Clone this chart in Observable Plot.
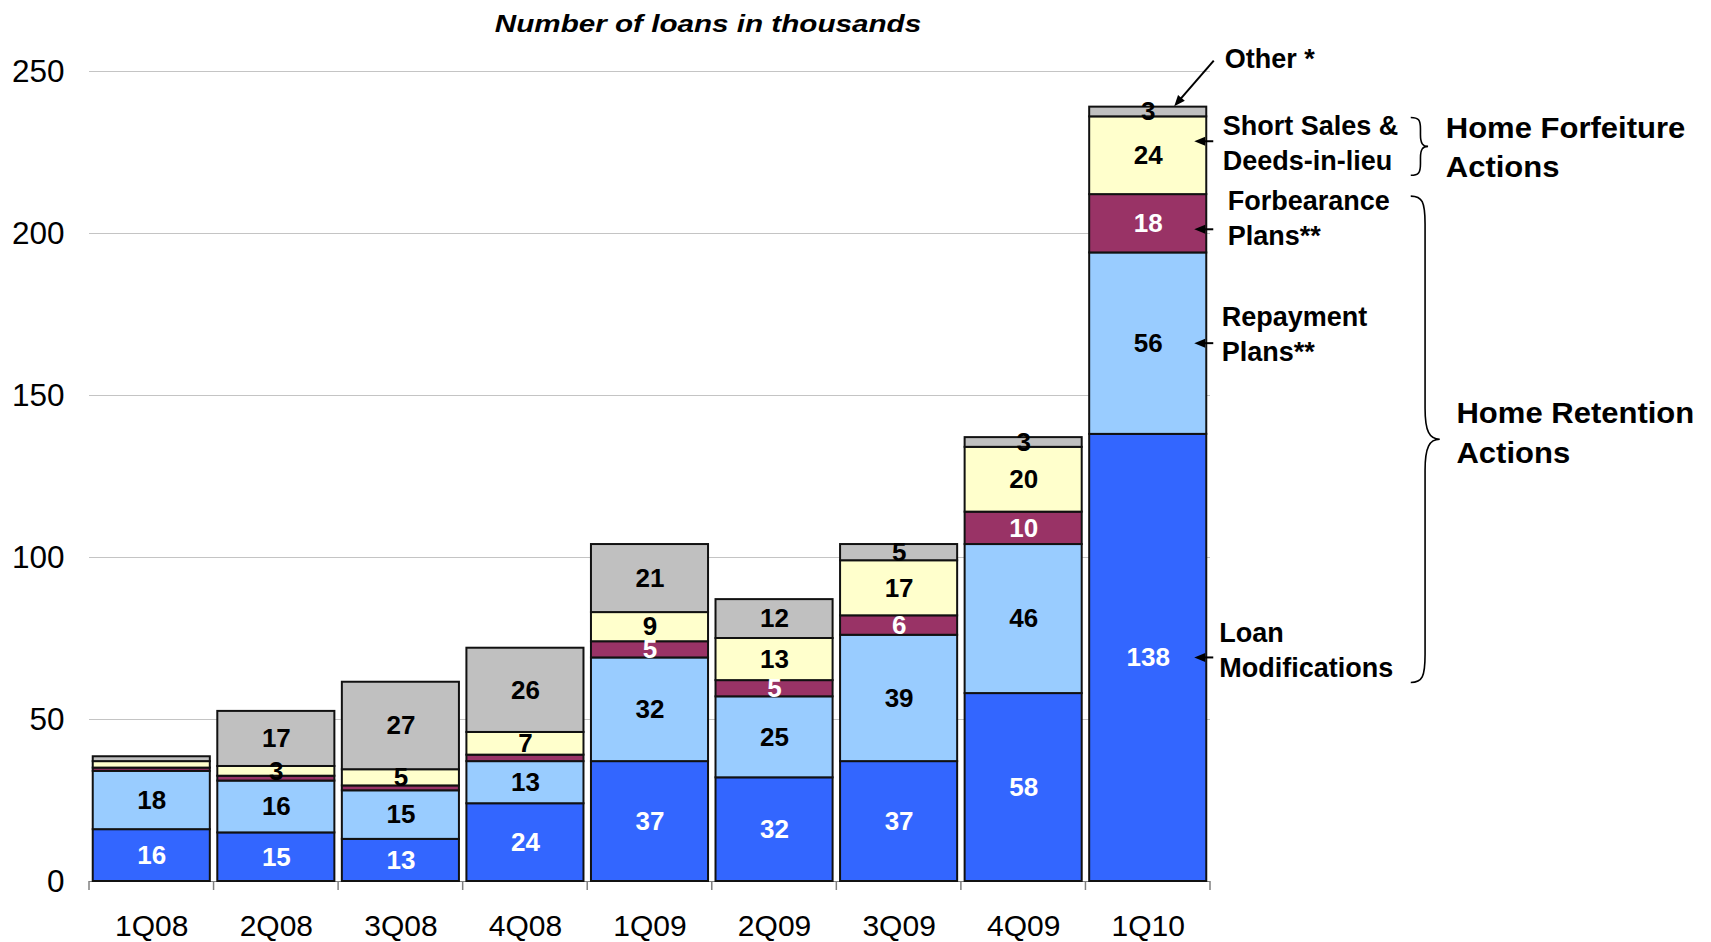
<!DOCTYPE html>
<html>
<head>
<meta charset="utf-8">
<script src="https://cdn.jsdelivr.net/npm/d3@7"></script>
<script src="https://cdn.jsdelivr.net/npm/@observablehq/plot@0.6"></script>
<style>
  body { margin: 0; background: #fff; font-family: "Liberation Sans", Arial, sans-serif; }
  #wrap { position: relative; width: 1711px; height: 942px; overflow: hidden; }
  #title { position: absolute; left: 708px; top: 12px; font-size: 24.7px; line-height: 1; font-weight: bold; font-style: italic; white-space: nowrap; transform: translateX(-50%) scaleX(1.2); }
  #chart { position: absolute; left: 0; top: 46px; }
</style>
</head>
<body>
<div id="wrap">
  <div id="title">Number of loans in thousands</div>
  <div id="chart"></div>
</div>
<script>
// ---- data ----
const quarters = ["1Q08","2Q08","3Q08","4Q08","1Q09","2Q09","3Q09","4Q09","1Q10"];
const loanModifications = [16, 15, 13, 24, 37, 32, 37, 58, 138];
const repaymentPlans    = [18, 16, 15, 13, 32, 25, 39, 46, 56];
const forbearancePlans  = [1, 1.5, 1.5, 2, 5, 5, 6, 10, 18];
const shortSalesDeeds   = [2, 3, 5, 7, 9, 13, 17, 20, 24];
const otherActions      = [1.5, 17, 27, 26, 21, 12, 5, 3, 3];
const yTicks = [0, 50, 100, 150, 200, 250];

const seriesNames = ["Loan Modifications", "Repayment Plans", "Forbearance Plans", "Short Sales & Deeds-in-lieu", "Other"];
const seriesValues = [loanModifications, repaymentPlans, forbearancePlans, shortSalesDeeds, otherActions];
const seriesColors = ["#3366FF", "#99CCFF", "#993366", "#FFFFCC", "#C0C0C0"];
const whiteLabelSeries = ["Loan Modifications", "Forbearance Plans"];
const annotationLines = [["Loan", "Modifications"], ["Repayment", "Plans**"], ["Forbearance", "Plans**"], ["Short Sales &", "Deeds-in-lieu"]];
const otherLabel = "Other *";
const groupForfeiture = ["Home Forfeiture", "Actions"];
const groupRetention = ["Home Retention", "Actions"];

const rows = quarters.flatMap((q, i) => seriesNames.map((s, j) => ({quarter: q, series: s, value: seriesValues[j][i]})));

const FONT = '"Liberation Sans", Arial, sans-serif';

const plot = Plot.plot({
  width: 1711,
  height: 896,
  marginLeft: 89,
  marginRight: 501,
  marginTop: 25,
  marginBottom: 61,
  style: {fontFamily: FONT, background: "white", color: "black", overflow: "visible"},
  x: {domain: quarters, paddingInner: 0.06, paddingOuter: 0.03, round: false, label: null},
  y: {domain: [0, 250], label: null},
  color: {domain: seriesNames, range: seriesColors},
  marks: [
    Plot.gridY(yTicks.filter(t => t > 0), {stroke: "#c4c4c4", strokeOpacity: 1, strokeWidth: 1}),
    Plot.ruleY([0], {stroke: "#808080", strokeWidth: 1}),
    Plot.barY(rows, {x: "quarter", y: "value", fill: "series", stroke: "#111", strokeWidth: 2}),
    Plot.text(rows, Plot.stackY({
      x: "quarter", y: "value", z: "series",
      text: d => (d.value >= 3 && whiteLabelSeries.includes(d.series)) ? String(d.value) : null,
      fill: "white", fontSize: 26, fontWeight: "bold", fontFamily: FONT
    })),
    Plot.text(rows, Plot.stackY({
      x: "quarter", y: "value", z: "series",
      text: d => (d.value >= 3 && !whiteLabelSeries.includes(d.series)) ? String(d.value) : null,
      fill: "black", fontSize: 26, fontWeight: "bold", fontFamily: FONT
    })),
    Plot.axisX({tickSize: 0, tickPadding: 33, fontSize: 30, label: null, fontFamily: FONT}),
    Plot.axisY(yTicks, {tickSize: 0, tickPadding: 25, fontSize: 31.5, label: null, fontFamily: FONT})
  ]
});

document.getElementById("chart").appendChild(plot);

// ---- annotations drawn with the plot's own scales ----
const sx = plot.scale("x"), sy = plot.scale("y");
const bx = sx.apply ? (v => sx.apply(v))
  : d3.scaleBand(sx.domain, sx.range).paddingInner(sx.paddingInner).paddingOuter(sx.paddingOuter).align(sx.align ?? 0.5);
const by = sy.apply ? (v => sy.apply(v)) : d3.scaleLinear(sy.domain, sy.range);
const bw = sx.bandwidth, step = sx.step;

const svg = d3.select(plot);
const g = svg.append("g").attr("font-family", FONT).attr("text-anchor", "start");

// x-axis tick marks at category boundaries
const y0 = by(0);
const lastQ = quarters[quarters.length - 1];
const edges = quarters.map(q => bx(q) - (step - bw) / 2).concat([bx(lastQ) + bw + (step - bw) / 2]);
g.selectAll("line.tk").data(edges).join("line")
  .attr("x1", d => d).attr("x2", d => d).attr("y1", y0).attr("y2", y0 + 9)
  .attr("stroke", "#808080").attr("stroke-width", 1.5);

function drawArrow(x1, y1, x2, y2) {
  const a = Math.atan2(y2 - y1, x2 - x1), L = 11, W = 4.5;
  const c = Math.cos(a), s = Math.sin(a);
  g.append("line").attr("x1", x1).attr("y1", y1).attr("x2", x2 - L * c * 0.7).attr("y2", y2 - L * s * 0.7)
    .attr("stroke", "#000").attr("stroke-width", 2);
  g.append("path")
    .attr("d", `M${x2},${y2}L${x2 - L * c + W * s},${y2 - L * s - W * c}L${x2 - L * c - W * s},${y2 - L * s + W * c}Z`)
    .attr("fill", "#000");
}
function drawLines(lines, x, firstBaseline, gap, size) {
  lines.forEach((t, k) => {
    g.append("text").attr("x", x).attr("y", firstBaseline + k * gap).attr("text-anchor", "start")
      .attr("font-size", size).attr("font-weight", "bold").attr("fill", "#000").text(t);
  });
}
function drawBrace(x0, top, bottom, body, point) {
  const mid = (top + bottom) / 2, h = bottom - top;
  const r = Math.min(28, h / 5), r2 = Math.min(31, h / 5);
  const xb = x0 + body, xp = x0 + point;
  const d = `M${x0},${top}` +
    `C${x0 + body * 0.8},${top} ${xb},${top + r * 0.2} ${xb},${top + r}` +
    `L${xb},${mid - r2}` +
    `C${xb},${mid - r2 * 0.25} ${xb + (xp - xb) * 0.3},${mid} ${xp},${mid}` +
    `C${xb + (xp - xb) * 0.3},${mid} ${xb},${mid + r2 * 0.25} ${xb},${mid + r2}` +
    `L${xb},${bottom - r}` +
    `C${xb},${bottom - r * 0.2} ${x0 + body * 0.8},${bottom} ${x0},${bottom}`;
  g.append("path").attr("d", d).attr("fill", "none").attr("stroke", "#000").attr("stroke-width", 1.6);
  return mid;
}
function drawGroupLabel(lines, x, firstBaseline, gap) {
  lines.forEach((t, k) => {
    g.append("text").attr("transform", `translate(${x},${firstBaseline + k * gap}) scale(1.07,1)`)
      .attr("text-anchor", "start")
      .attr("font-size", 29).attr("font-weight", "bold").attr("fill", "#000").text(t);
  });
}

const li = quarters.length - 1;
const lastVals = seriesValues.map(s => s[li]);
const cum = [0];
lastVals.forEach(v => cum.push(cum[cum.length - 1] + v));
const xR = bx(lastQ) + bw, xC = bx(lastQ) + bw / 2;

const annDx = [13, 15.5, 21.5, 16.5];
const annBase = [-15.6, -17.2, -12.8, -20];
const arrowDy = [0, 0, 6, -14];
const lineGap = 35;
const firstBase = [];
annotationLines.forEach((lines, j) => {
  const mid = by((cum[j] + cum[j + 1]) / 2);
  drawArrow(xR + 7, mid + arrowDy[j], xR - 12, mid + arrowDy[j]);
  firstBase[j] = mid + annBase[j];
  drawLines(lines, xR + annDx[j], firstBase[j], lineGap, 27);
});

// "Other *"
const topY = by(cum[cum.length - 1]);
drawLines([otherLabel], xR + 18.5, topY - 38.4, lineGap, 27);
drawArrow(xR + 7.5, topY - 46, xC + 26.5, topY - 0.5);

// braces and group labels
const fMid = drawBrace(xR + 204.5, firstBase[3] - 17.7, firstBase[3] + lineGap + 5, 9.7, 17.3);
drawGroupLabel(groupForfeiture, xR + 239.5, fMid - 8.5, 39);
const rMid = drawBrace(xR + 204.5, firstBase[2] - 14.4, firstBase[0] + lineGap + 5.6, 14.3, 29);
drawGroupLabel(groupRetention, xR + 250.2, rMid - 16, 39.3);
</script>
</body>
</html>
